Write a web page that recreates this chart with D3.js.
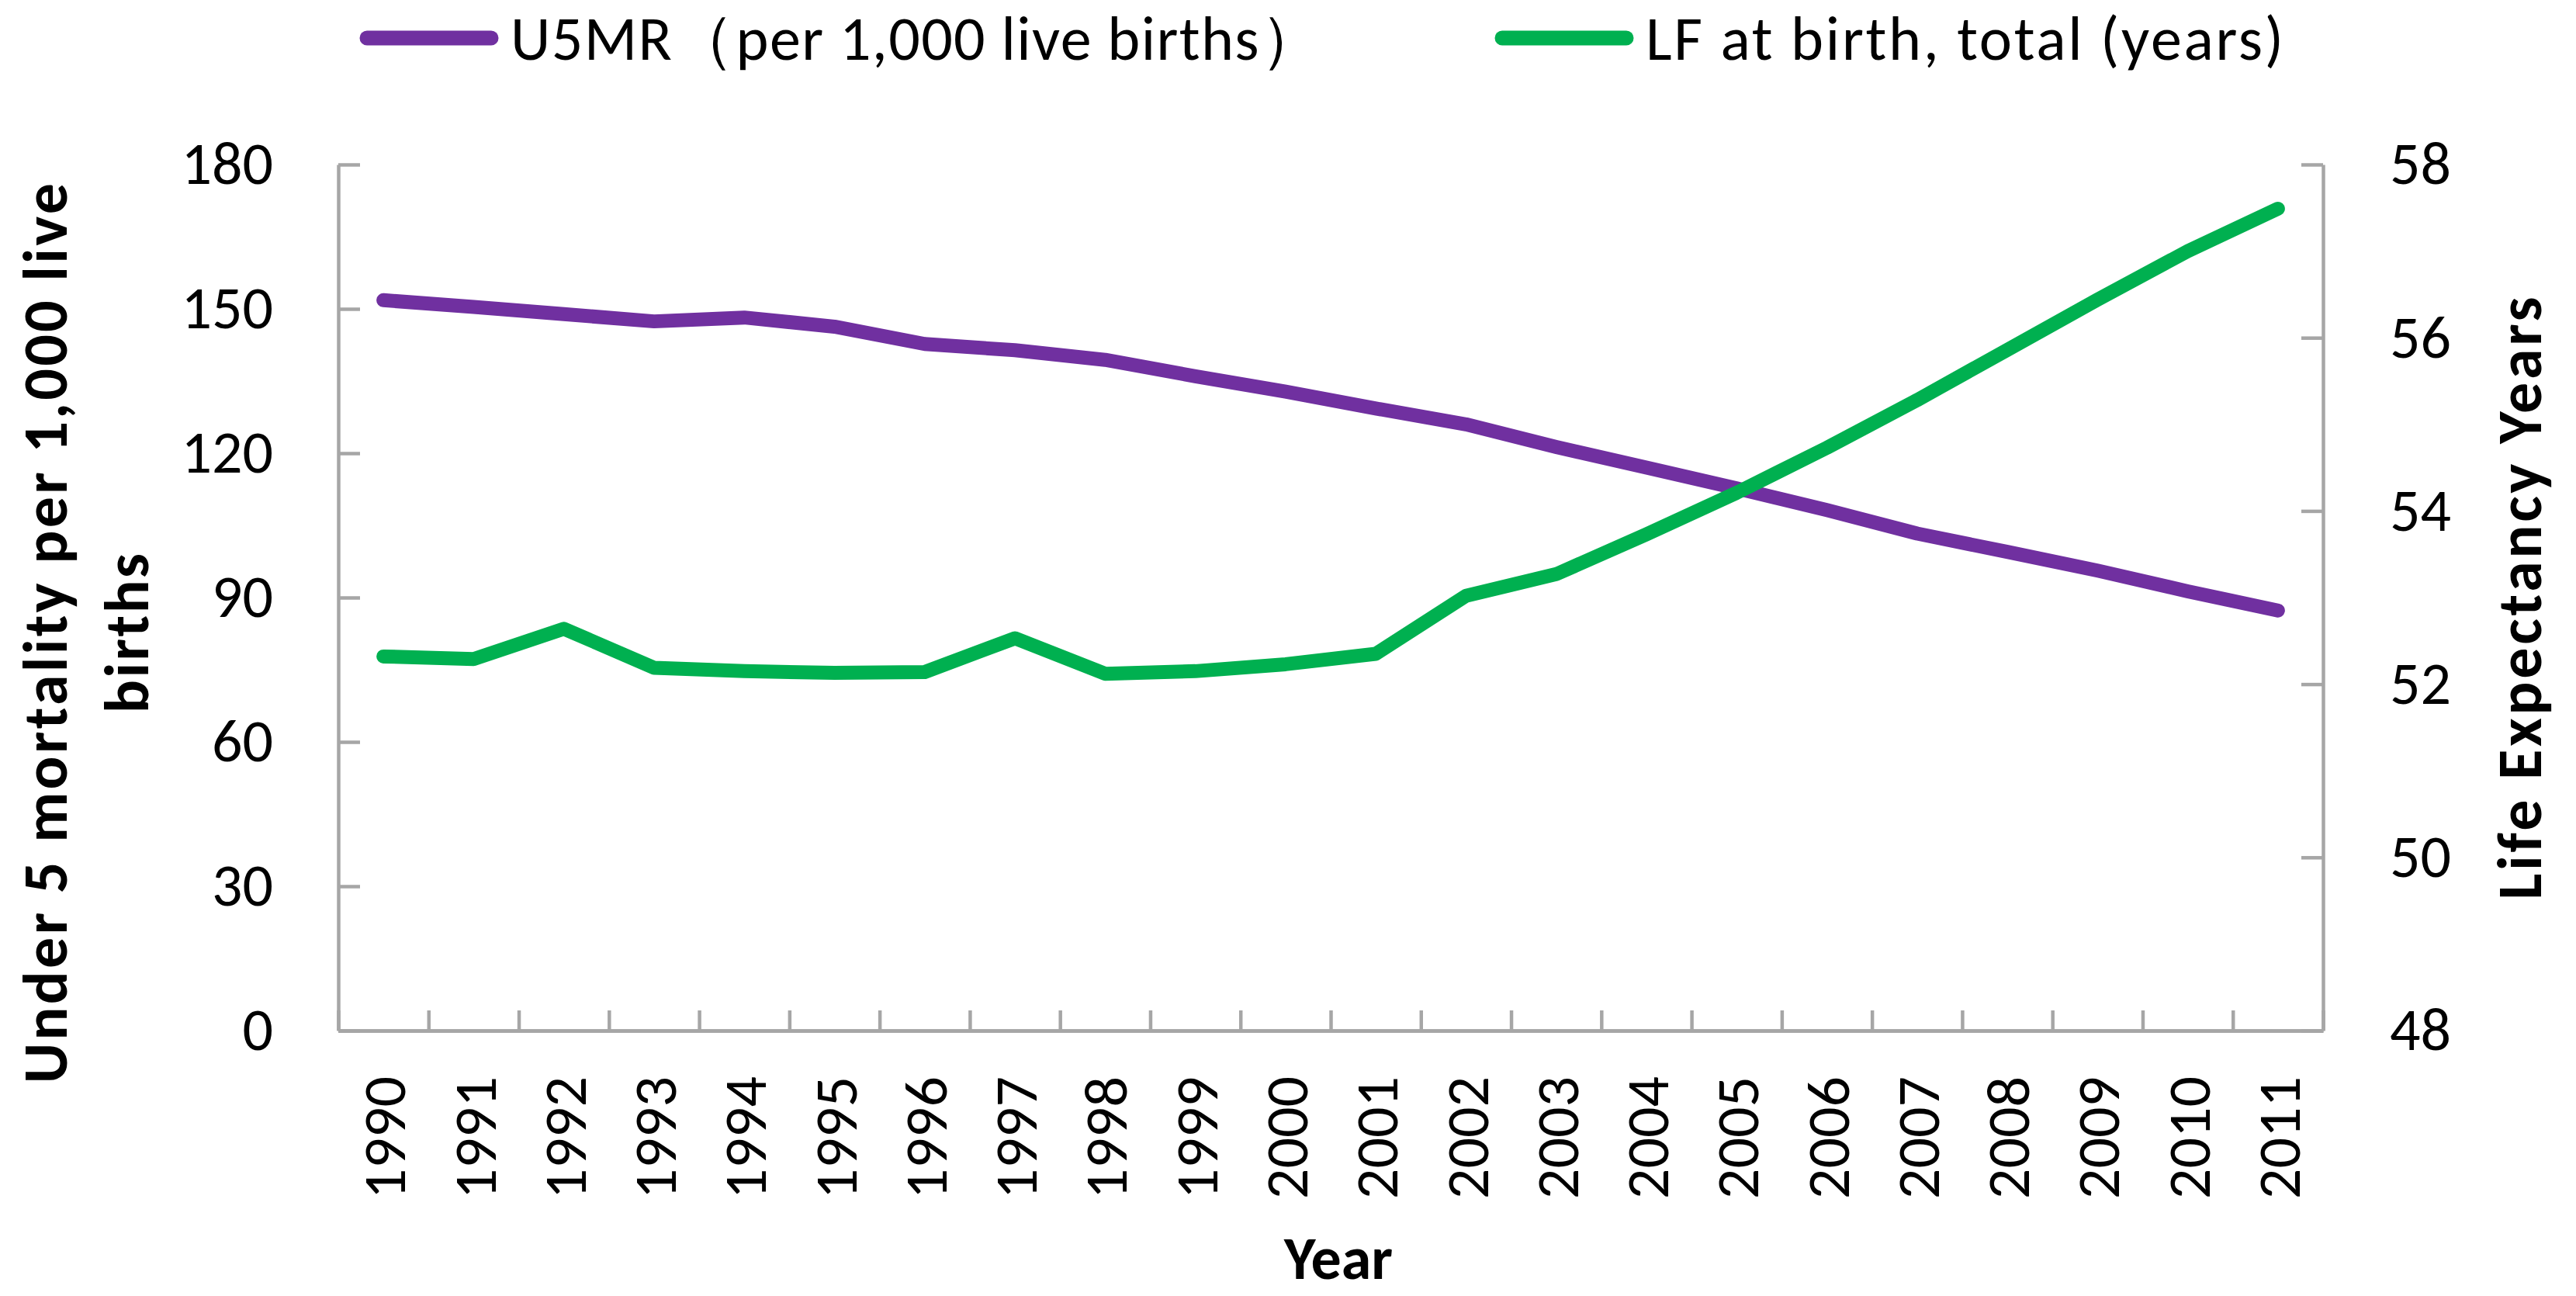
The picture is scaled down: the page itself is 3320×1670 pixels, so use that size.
<!DOCTYPE html>
<html lang="en">
<head>
  <meta charset="UTF-8">
  <title>U5MR and life expectancy</title>
  <script src="https://cdn.jsdelivr.net/npm/d3@7"></script>
  <style>
    body { margin: 0; background: #fff; }
    text { font-family: Carlito, Calibri, Lato, "Noto Sans", sans-serif; fill: #000; }
  </style>
</head>
<body>
  <div id="chart"></div>

  <script>
    const years = ['1990', '1991', '1992', '1993', '1994', '1995', '1996', '1997', '1998', '1999', '2000',
      '2001', '2002', '2003', '2004', '2005', '2006', '2007', '2008', '2009', '2010', '2011'];
    // under-5 mortality per 1,000 live births (left axis)
    const u5mr = [151.8, 150.4, 148.9, 147.4, 148.2, 146.3, 142.7, 141.4, 139.4, 136.0, 132.8,
      129.3, 126.0, 121.3, 117.0, 112.7, 108.2, 103.3, 99.5, 95.6, 91.3, 87.3];
    // life expectancy at birth, years (right axis)
    const lifeExp = [52.32, 52.29, 52.64, 52.19, 52.15, 52.13, 52.14, 52.53, 52.12, 52.15, 52.23,
      52.35, 53.02, 53.27, 53.73, 54.21, 54.73, 55.28, 55.86, 56.44, 57.0, 57.49];
    const leftTicks = [0, 30, 60, 90, 120, 150, 180];
    const rightTicks = [48, 50, 52, 54, 56, 58];
    const seriesNames = ['U5MR\uFF08per 1,000 live births\uFF09', 'LF at birth, total (years)'];

    const width = 3320, height = 1670;
    const plotLeft = 436, plotRight = 2994, plotTop = 212, plotBottom = 1328;
    const purple = '#7030a0', green = '#00b050', grey = '#a6a6a6';

    const svg = d3.select('#chart')
      .append('svg')
        .attr('width', width)
        .attr('height', height);

    const x = d3.scaleBand().domain(years).range([plotLeft, plotRight]);
    const xEdge = d3.scaleLinear().domain([0, years.length]).range([plotLeft, plotRight]);
    const yL = d3.scaleLinear().domain([0, 180]).range([plotBottom, plotTop]);
    const yR = d3.scaleLinear().domain([48, 58]).range([plotBottom, plotTop]);

    // axes (ticks point inwards, like the Excel original)
    svg.append('g')
      .attr('transform', `translate(${plotLeft},0)`)
      .call(d3.axisLeft(yL).tickValues(leftTicks).tickSize(-28).tickPadding(84).tickSizeOuter(0));

    svg.append('g')
      .attr('transform', `translate(${plotRight},0)`)
      .call(d3.axisRight(yR).tickValues(rightTicks).tickSize(-28).tickPadding(86).tickSizeOuter(0));

    svg.append('g')
      .attr('transform', `translate(0,${plotBottom})`)
      .call(d3.axisBottom(xEdge).tickValues(d3.range(years.length + 1)).tickSize(-26).tickFormat('').tickSizeOuter(0));

    const axisBottom = svg.append('g')
      .attr('transform', `translate(0,${plotBottom})`)
      .call(d3.axisBottom(x).tickSize(0).tickSizeOuter(0));

    axisBottom.selectAll('text')
      .attr('transform', 'rotate(-90)')
      .attr('x', -59)
      .attr('y', 0)
      .attr('dy', '0.36em')
      .style('text-anchor', 'end');

    svg.selectAll('.domain, .tick line')
      .attr('stroke', grey)
      .attr('stroke-width', 4.5);
    svg.selectAll('.tick text')
      .style('font-size', '78px');

    // lines
    const lineL = d3.line().x(d => x(d[0]) + x.bandwidth() / 2).y(d => yL(d[1]));
    const lineR = d3.line().x(d => x(d[0]) + x.bandwidth() / 2).y(d => yR(d[1]));

    svg.append('path')
      .datum(d3.zip(years, u5mr))
      .attr('d', lineL)
      .attr('fill', 'none')
      .attr('stroke', purple)
      .attr('stroke-width', 18)
      .attr('stroke-linecap', 'round')
      .attr('stroke-linejoin', 'round');

    svg.append('path')
      .datum(d3.zip(years, lifeExp))
      .attr('d', lineR)
      .attr('fill', 'none')
      .attr('stroke', green)
      .attr('stroke-width', 18)
      .attr('stroke-linecap', 'round')
      .attr('stroke-linejoin', 'round');

    // axis titles
    svg.append('text')
      .attr('transform', 'translate(86,816) rotate(-90)')
      .attr('text-anchor', 'middle')
      .style('font-size', '80px')
      .style('font-weight', 'bold')
      .call(t => {
        t.append('tspan').attr('x', 0).attr('dy', 0)
          .attr('textLength', 1160).attr('lengthAdjust', 'spacing')
          .text('Under 5 mortality per 1,000 live');
        t.append('tspan').attr('x', 0).attr('dy', '1.31em')
          .attr('textLength', 206).attr('lengthAdjust', 'spacing')
          .text('births');
      });

    svg.append('text')
      .attr('transform', 'translate(3275,771) rotate(-90)')
      .attr('text-anchor', 'middle')
      .attr('textLength', 777)
      .attr('lengthAdjust', 'spacing')
      .style('font-size', '80px')
      .style('font-weight', 'bold')
      .text('Life Expectancy Years');

    svg.append('text')
      .attr('x', (plotLeft + plotRight) / 2 + 10)
      .attr('y', 1648)
      .attr('text-anchor', 'middle')
      .style('font-size', '78px')
      .style('font-weight', 'bold')
      .text('Year');

    // legend
    const legend = [
      {name: seriesNames[0], color: purple, x0: 473, len: 1046},
      {name: seriesNames[1], color: green, x0: 1936, len: 822}
    ];
    const lg = svg.selectAll('.legend')
      .data(legend)
      .join('g')
        .attr('class', 'legend')
        .attr('transform', d => `translate(${d.x0},49)`);
    lg.append('line')
      .attr('x1', 0).attr('x2', 160)
      .attr('stroke', d => d.color)
      .attr('stroke-width', 19)
      .attr('stroke-linecap', 'round');
    lg.append('text')
      .attr('x', 185)
      .attr('y', 28)
      .attr('textLength', d => d.len)
      .attr('lengthAdjust', 'spacing')
      .style('font-size', '80px')
      .text(d => d.name);
  </script>
</body>
</html>
